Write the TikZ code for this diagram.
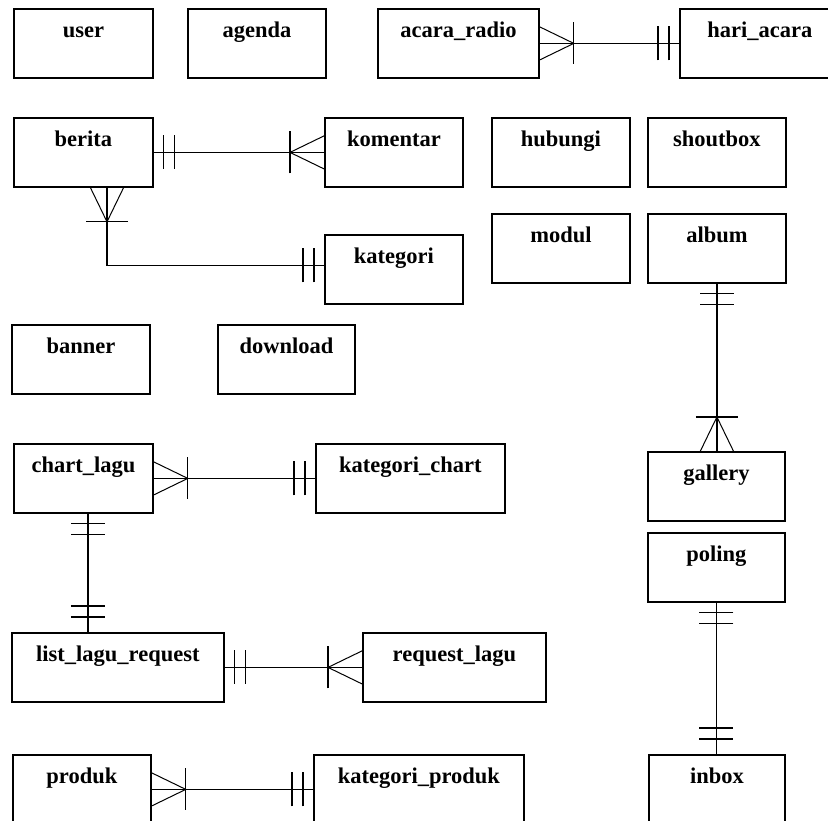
\documentclass[tikz,border=0pt]{standalone}
\usepackage{fontspec}
\setmainfont{Liberation Serif}
\usetikzlibrary{calc}

\begin{document}
\begin{tikzpicture}[x=1pt, y=-1pt,
  entity/.style={draw, line width=1.8pt, anchor=north west, minimum width=138pt, minimum height=69pt, inner ysep=0pt, text height=29pt, text depth=40pt, font=\fontsize{22.5}{26}\selectfont\bfseries},
  rel/.style={line width=1.2pt},
  many/.pic={\draw[rel, line width=1pt] (0,-16.5) -- (34,0) -- (0,16.5); \draw[rel] (34,-21) -- (34,21);},
  only/.pic={\draw[rel] (10,-17) -- (10,17); \draw[rel] (21,-17) -- (21,17);}]
  \useasboundingbox (0,0) rectangle (828,821);
  \fill[white] (0,0) rectangle (828,821);
  \clip (0,0) rectangle (828,821);

  % entities
  \node[entity, minimum width=139pt] (user) at (13,8) {user};
  \node[entity] (agenda) at (187,8) {agenda};
  \node[entity, minimum width=161pt] (acara) at (377,8) {acara\_radio};
  \node[entity, minimum width=160pt] (hari) at (679,8) {hari\_acara};
  \node[entity, minimum width=139pt] (berita) at (13,117) {berita};
  \node[entity] (komentar) at (324,117) {komentar};
  \node[entity] (hubungi) at (491,117) {hubungi};
  \node[entity] (shoutbox) at (647,117) {shoutbox};
  \node[entity] (kategori) at (324,234) {kategori};
  \node[entity] (modul) at (491,213) {modul};
  \node[entity] (album) at (647,213) {album};
  \node[entity] (banner) at (11,324) {banner};
  \node[entity, minimum width=137pt] (download) at (217,324) {download};
  \node[entity, minimum width=139pt] (chart) at (13,443) {chart\_lagu};
  \node[entity, minimum width=189pt] (katchart) at (315,443) {kategori\_chart};
  \node[entity, minimum width=137pt] (gallery) at (647,451) {gallery};
  \node[entity, minimum width=137pt] (poling) at (647,532) {poling};
  \node[entity, minimum width=212pt] (list) at (11,632) {list\_lagu\_request};
  \node[entity, minimum width=183pt] (request) at (362,632) {request\_lagu};
  \node[entity] (produk) at (12,754) {produk};
  \node[entity, minimum width=210pt] (katproduk) at (313,754) {kategori\_produk};
  \node[entity, minimum width=136pt] (inbox) at (648,754) {inbox};

  % relations
  \coordinate (bdown) at ($(berita.south west)+(94,0)$);
  \coordinate (katjoin) at ($(kategori.west)+(0,-4)$);
  \coordinate (cdown) at ($(chart.south)+(4.5,0)$);

  \draw[rel] (acara.east) -- (acara.east -| hari.west);
  \pic at (acara.east) {many};
  \pic[rotate=180] at (hari.west) {only};

  \draw[rel] (berita.east) -- (berita.east -| komentar.west);
  \pic at (berita.east) {only};
  \pic[rotate=180] at (komentar.west) {many};

  \draw[rel] (bdown) |- (katjoin);
  \pic[rotate=-90] at (bdown) {many};
  \pic[rotate=180] at (katjoin) {only};

  \draw[rel] (album.south) -- (album.south |- gallery.north);
  \pic[rotate=-90] at (album.south) {only};
  \pic[rotate=90] at (album.south |- gallery.north) {many};

  \draw[rel] (chart.east) -- (chart.east -| katchart.west);
  \pic at (chart.east) {many};
  \pic[rotate=180] at (katchart.west) {only};

  \draw[rel] (cdown) -- (cdown |- list.north);
  \pic[rotate=-90] at (cdown) {only};
  \pic[rotate=90] at ($(cdown |- list.north)+(0,-5)$) {only};

  \draw[rel] (list.east) -- (list.east -| request.west);
  \pic at (list.east) {only};
  \pic[rotate=180] at (request.west) {many};

  \draw[rel] (poling.south) -- (poling.south |- inbox.north);
  \pic[rotate=-90] at (poling.south) {only};
  \pic[rotate=90] at ($(poling.south |- inbox.north)+(0,-5)$) {only};

  \draw[rel] (produk.east) -- (produk.east -| katproduk.west);
  \pic at (produk.east) {many};
  \pic[rotate=180] at (katproduk.west) {only};
\end{tikzpicture}
\end{document}
